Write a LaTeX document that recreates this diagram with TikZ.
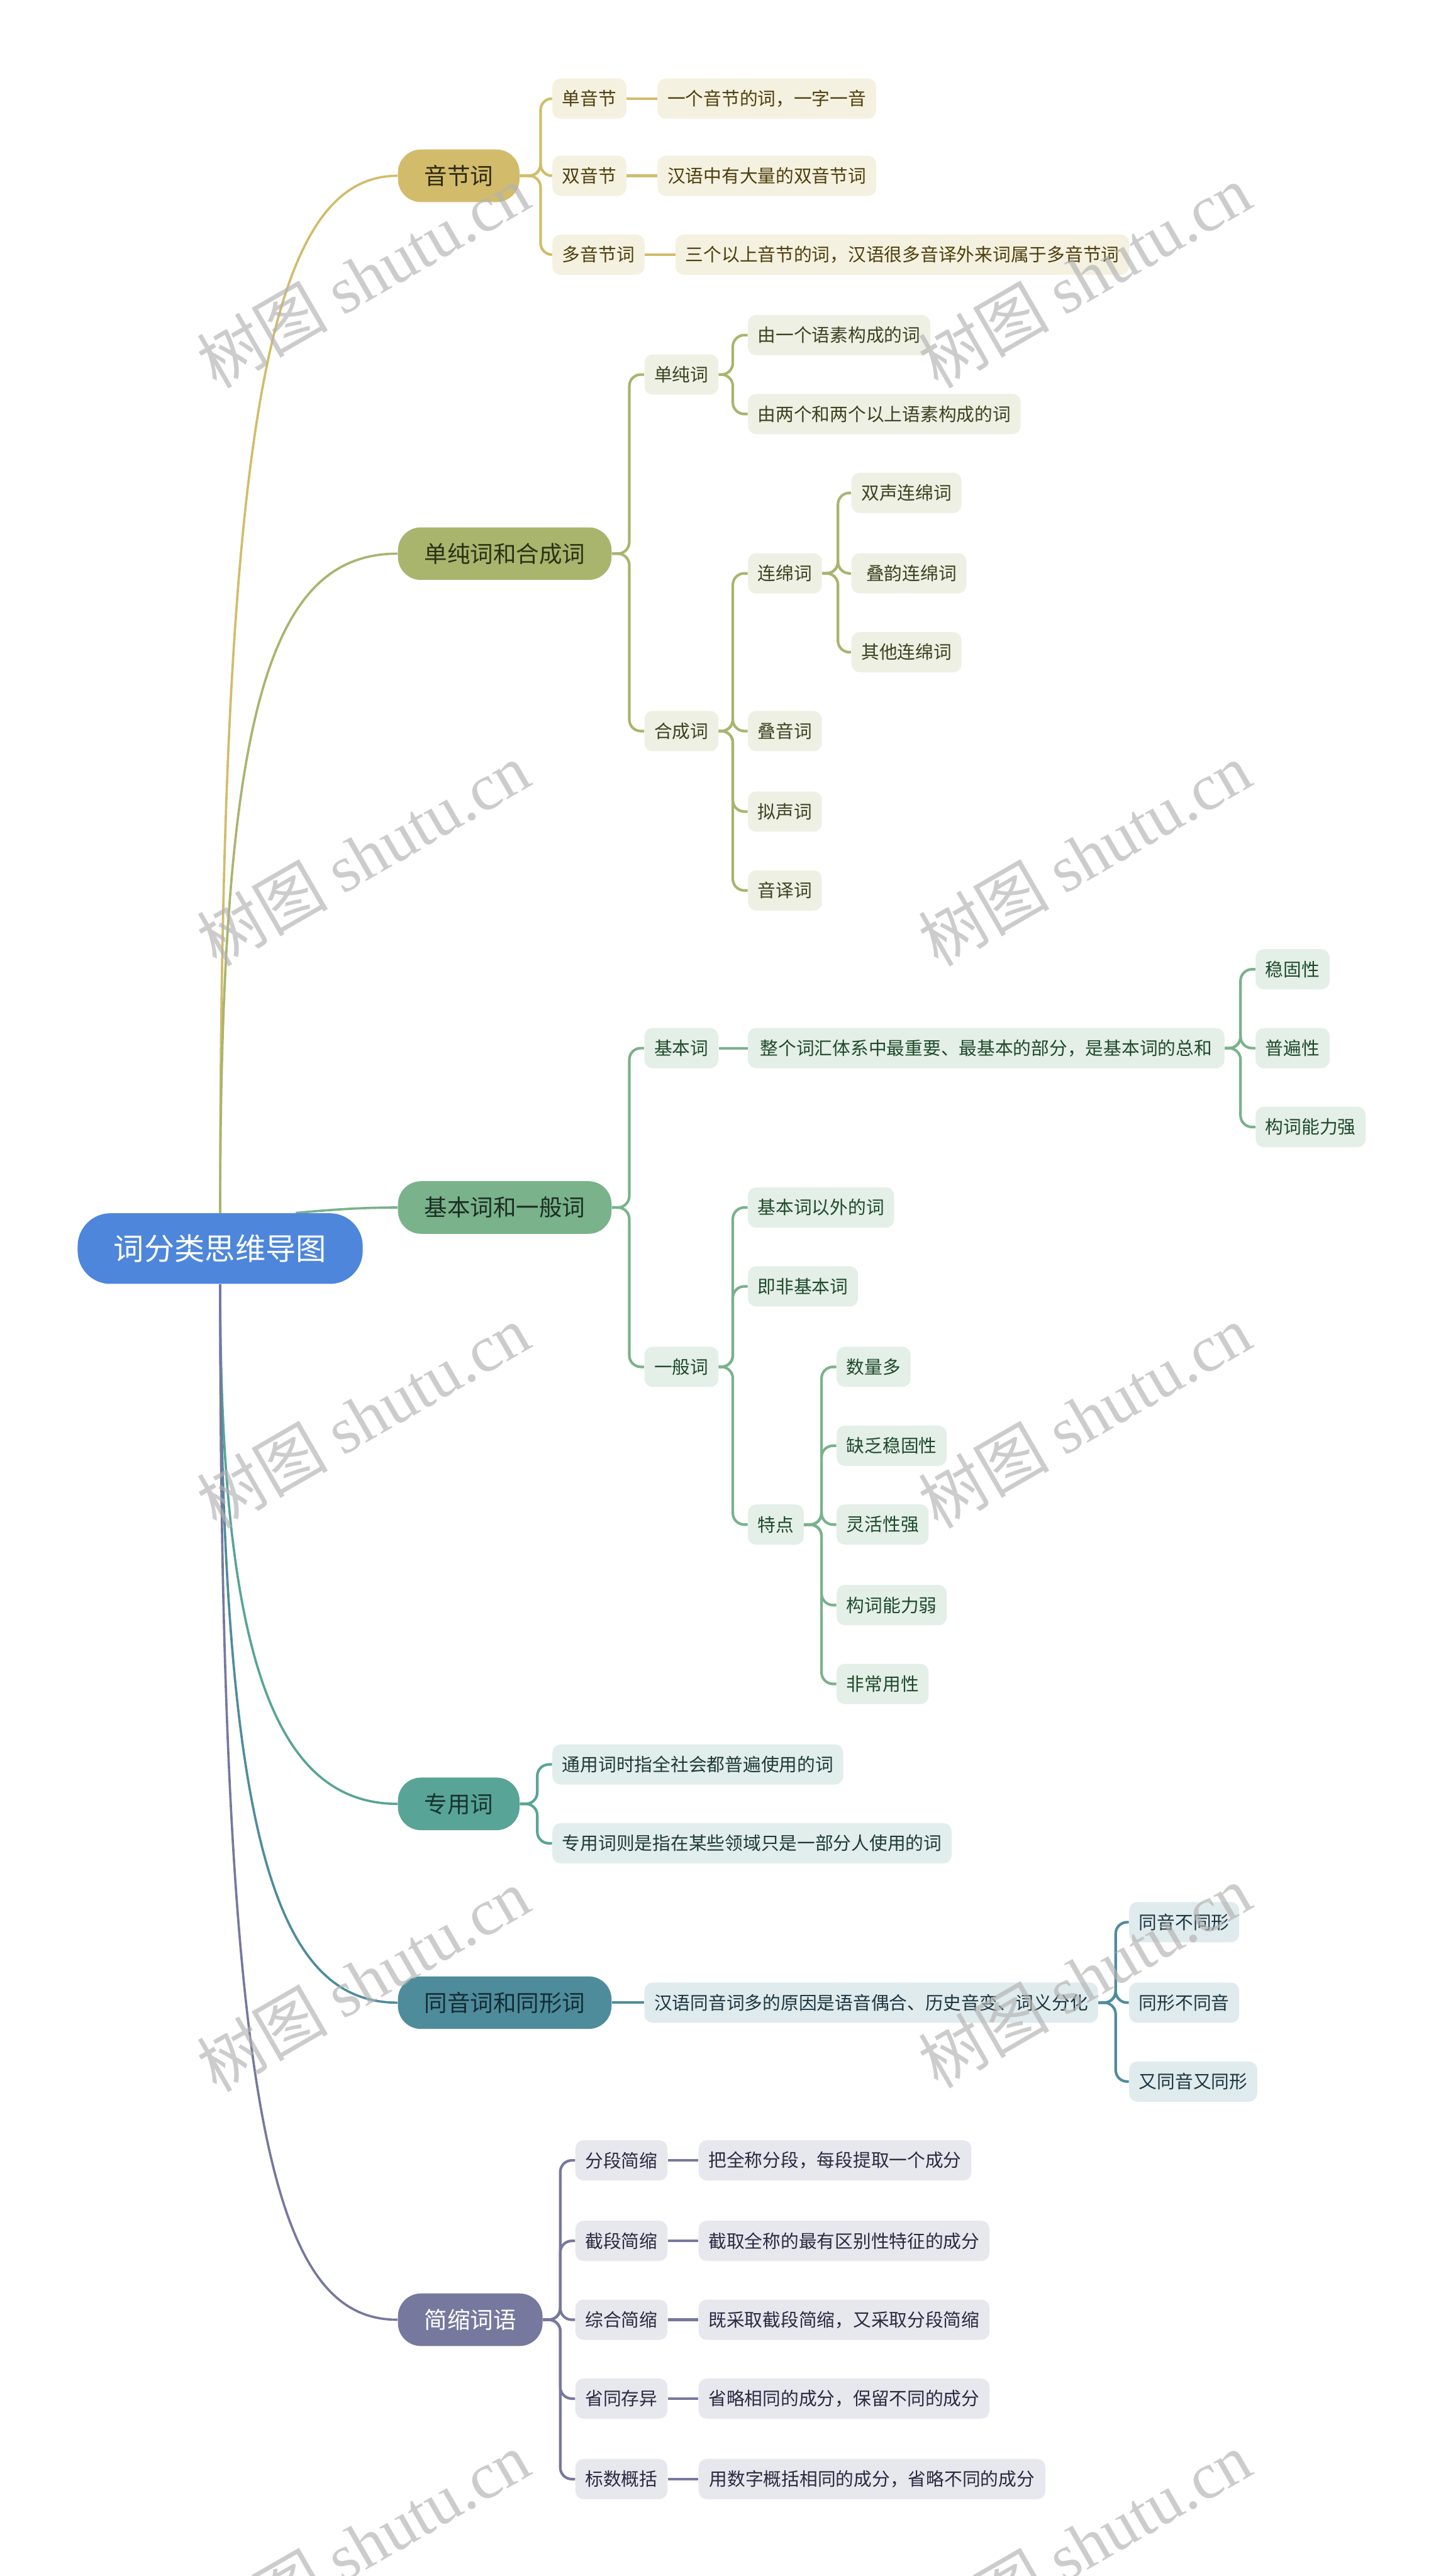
\documentclass[tikz,border=0pt]{standalone}
\usepackage{fontspec}
\setmainfont{Noto Sans CJK SC}
\newfontfamily\wmlatin{Liberation Serif}
\usetikzlibrary{backgrounds}
\definecolor{rootc}{HTML}{4D86DB}
\definecolor{gA}{HTML}{D2BC6B}\definecolor{gAl}{HTML}{F5F1E0}\definecolor{gAt}{HTML}{4D3F0C}\definecolor{gAd}{HTML}{2E2A12}
\definecolor{gB}{HTML}{A9B46D}\definecolor{gBl}{HTML}{EFF0E4}\definecolor{gBt}{HTML}{3A4320}\definecolor{gBd}{HTML}{2A3214}
\definecolor{gC}{HTML}{79B28B}\definecolor{gCl}{HTML}{E4EFE7}\definecolor{gCt}{HTML}{1E4A2C}\definecolor{gCd}{HTML}{1C2E22}
\definecolor{gD}{HTML}{58A496}\definecolor{gDl}{HTML}{E2EEEC}\definecolor{gDt}{HTML}{1E3A36}\definecolor{gDd}{HTML}{173430}
\definecolor{gE}{HTML}{4E8C9C}\definecolor{gEl}{HTML}{E0EBEE}\definecolor{gEt}{HTML}{1C3640}\definecolor{gEd}{HTML}{152C35}
\definecolor{gF}{HTML}{77789E}\definecolor{gFl}{HTML}{E7E7EE}\definecolor{gFt}{HTML}{2A2A40}
\begin{document}
\begin{tikzpicture}[x=1pt,y=-1pt,
  rootnode/.style={fill=rootc,text=white,rounded corners=20pt,minimum height=43pt,inner xsep=22pt,inner ysep=0pt,font=\fontsize{18.5}{20}\selectfont},
  lone/.style={rounded corners=14pt,minimum height=32pt,inner xsep=16pt,inner ysep=0pt,anchor=west,font=\fontsize{14}{16}\selectfont},
  leaf/.style={rounded corners=5pt,minimum height=24.5pt,inner xsep=6pt,inner ysep=0pt,anchor=west,font=\fontsize{11}{13}\selectfont},
  lA/.style={leaf,fill=gAl,text=gAt}, lB/.style={leaf,fill=gBl,text=gBt},
  lC/.style={leaf,fill=gCl,text=gCt}, lD/.style={leaf,fill=gDl,text=gDt},
  lE/.style={leaf,fill=gEl,text=gEt}, lF/.style={leaf,fill=gFl,text=gFt},
  main/.style={line width=1.4pt},
  sub/.style={line width=1.6pt,rounded corners=7pt},
  wm/.style={text=black!30,text opacity=0.65,rotate=30,font=\fontsize{40}{40}\selectfont}
]
\useasboundingbox (0,0) rectangle (877,1568);
\begin{scope}[on background layer]
\fill[white] (0,0) rectangle (877,1568);
\end{scope}

% ---------- nodes ----------
\node[rootnode] (root) at (134,760) {词分类思维导图};

\node[lone,fill=gA,text=gAd] (a1) at (242,107) {音节词};
\node[lone,fill=gB,text=gBd] (a2) at (242,337) {单纯词和合成词};
\node[lone,fill=gC,text=gCd] (a3) at (242,735) {基本词和一般词};
\node[lone,fill=gD,text=gDd] (a4) at (242,1098) {专用词};
\node[lone,fill=gE,text=gEd] (a5) at (242,1219) {同音词和同形词};
\node[lone,fill=gF,text=white] (a6) at (242,1412) {简缩词语};

% branch 1
\node[lA] (b11) at (336,60) {单音节};
\node[lA] (b12) at (336,107) {双音节};
\node[lA] (b13) at (336,155) {多音节词};
\node[lA] (c11) at (400,60) {一个音节的词，一字一音};
\node[lA] (c12) at (400,107) {汉语中有大量的双音节词};
\node[lA,minimum width=275pt] (c13) at (411,155) {三个以上音节的词，汉语很多音译外来词属于多音节词};

% branch 2
\node[lB] (b21) at (392,228) {单纯词};
\node[lB] (b22) at (392,445) {合成词};
\node[lB] (c21) at (455,204) {由一个语素构成的词};
\node[lB] (c22) at (455,252) {由两个和两个以上语素构成的词};
\node[lB] (c23) at (455,349) {连绵词};
\node[lB] (c24) at (455,445) {叠音词};
\node[lB] (c25) at (455,494) {拟声词};
\node[lB] (c26) at (455,542) {音译词};
\node[lB] (d21) at (518,300) {双声连绵词};
\node[lB] (d22) at (518,349) {\hspace*{3pt}叠韵连绵词};
\node[lB] (d23) at (518,397) {其他连绵词};

% branch 3
\node[lC] (b31) at (392,638) {基本词};
\node[lC] (b32) at (392,832) {一般词};
\node[lC,minimum width=290pt] (c31) at (455,638) {整个词汇体系中最重要、最基本的部分，是基本词的总和};
\node[lC] (d31) at (764,590) {稳固性};
\node[lC] (d32) at (764,638) {普遍性};
\node[lC] (d33) at (764,686) {构词能力强};
\node[lC] (c32) at (455,735) {基本词以外的词};
\node[lC] (c33) at (455,783) {即非基本词};
\node[lC] (c34) at (455,928) {特点};
\node[lC] (d34) at (509,832) {数量多};
\node[lC] (d35) at (509,880) {缺乏稳固性};
\node[lC] (d36) at (509,928) {灵活性强};
\node[lC] (d37) at (509,977) {构词能力弱};
\node[lC] (d38) at (509,1025) {非常用性};

% branch 4
\node[lD] (c41) at (336,1074) {通用词时指全社会都普遍使用的词};
\node[lD] (c42) at (336,1122) {专用词则是指在某些领域只是一部分人使用的词};

% branch 5
\node[lE,minimum width=274pt] (c51) at (392,1219) {汉语同音词多的原因是语音偶合、历史音变、词义分化};
\node[lE] (d51) at (687,1170) {同音不同形};
\node[lE] (d52) at (687,1219) {同形不同音};
\node[lE] (d53) at (687,1267) {又同音又同形};

% branch 6
\node[lF] (b61) at (350,1315) {分段简缩};
\node[lF] (b62) at (350,1364) {截段简缩};
\node[lF] (b63) at (350,1412) {综合简缩};
\node[lF] (b64) at (350,1460) {省同存异};
\node[lF] (b65) at (350,1509) {标数概括};
\node[lF] (c61) at (425,1315) {把全称分段，每段提取一个成分};
\node[lF] (c62) at (425,1364) {截取全称的最有区别性特征的成分};
\node[lF] (c63) at (425,1412) {既采取截段简缩，又采取分段简缩};
\node[lF] (c64) at (425,1460) {省略相同的成分，保留不同的成分};
\node[lF,minimum width=211pt] (c65) at (425,1509) {用数字概括相同的成分，省略不同的成分};

% ---------- spine coordinates ----------
\coordinate (sA) at (329,0);
\coordinate (sB) at (383,0);
\coordinate (sB1) at (446,0);
\coordinate (sB2) at (510,0);
\coordinate (sC) at (383,0);
\coordinate (sC1) at (755,0);
\coordinate (sC2) at (446,0);
\coordinate (sC3) at (500,0);
\coordinate (sD) at (327,0);
\coordinate (sE) at (679,0);
\coordinate (sF) at (341,0);

% ---------- connectors (behind nodes) ----------
\begin{scope}[on background layer]
% root to main topics
\draw[main,gA] (root.north) .. controls (134,250) and (165,107) .. (a1.west);
\draw[main,gB] (root.north) .. controls (134,430) and (165,337) .. (a2.west);
\draw[main,gC] ([xshift=46pt]root.north) .. controls (205,736) and (222,735) .. (a3.west);
\draw[main,gD] (root.south) .. controls (134,1010) and (168,1098) .. (a4.west);
\draw[main,gE] (root.south) .. controls (134,1120) and (168,1219) .. (a5.west);
\draw[main,gF] (root.south) .. controls (134,1300) and (168,1412) .. (a6.west);

% branch 1
\foreach \n in {b11,b12,b13} \draw[sub,gA] (a1.east) -- (a1.east -| sA) |- (\n.west);
\draw[sub,gA] (b11.east) -- (c11.west);
\draw[sub,gA] (b12.east) -- (c12.west);
\draw[sub,gA] (b13.east) -- (c13.west);

% branch 2
\foreach \n in {b21,b22} \draw[sub,gB] (a2.east) -- (a2.east -| sB) |- (\n.west);
\foreach \n in {c21,c22} \draw[sub,gB] (b21.east) -- (b21.east -| sB1) |- (\n.west);
\foreach \n in {c23,c24,c25,c26} \draw[sub,gB] (b22.east) -- (b22.east -| sB1) |- (\n.west);
\foreach \n in {d21,d22,d23} \draw[sub,gB] (c23.east) -- (c23.east -| sB2) |- (\n.west);

% branch 3
\foreach \n in {b31,b32} \draw[sub,gC] (a3.east) -- (a3.east -| sC) |- (\n.west);
\draw[sub,gC] (b31.east) -- (c31.west);
\foreach \n in {d31,d32,d33} \draw[sub,gC] (c31.east) -- (c31.east -| sC1) |- (\n.west);
\foreach \n in {c32,c33,c34} \draw[sub,gC] (b32.east) -- (b32.east -| sC2) |- (\n.west);
\foreach \n in {d34,d35,d36,d37,d38} \draw[sub,gC] (c34.east) -- (c34.east -| sC3) |- (\n.west);

% branch 4
\foreach \n in {c41,c42} \draw[sub,gD] (a4.east) -- (a4.east -| sD) |- (\n.west);

% branch 5
\draw[sub,gE] (a5.east) -- (c51.west);
\foreach \n in {d51,d52,d53} \draw[sub,gE] (c51.east) -- (c51.east -| sE) |- (\n.west);

% branch 6
\foreach \n in {b61,b62,b63,b64,b65} \draw[sub,gF] (a6.east) -- (a6.east -| sF) |- (\n.west);
\draw[sub,gF] (b61.east) -- (c61.west);
\draw[sub,gF] (b62.east) -- (c62.west);
\draw[sub,gF] (b63.east) -- (c63.west);
\draw[sub,gF] (b64.east) -- (c64.west);
\draw[sub,gF] (b65.east) -- (c65.west);
\end{scope}

% ---------- watermarks ----------
\foreach \wx/\wy [count=\i] in {221/168,660/168,221/520,660/520,221/862,660/862,221/1205,660/1203,221/1548,660/1548}
  \node[wm] (wm\i) at (\wx,\wy) {树图 {\wmlatin shutu.cn}};
\end{tikzpicture}
\end{document}
